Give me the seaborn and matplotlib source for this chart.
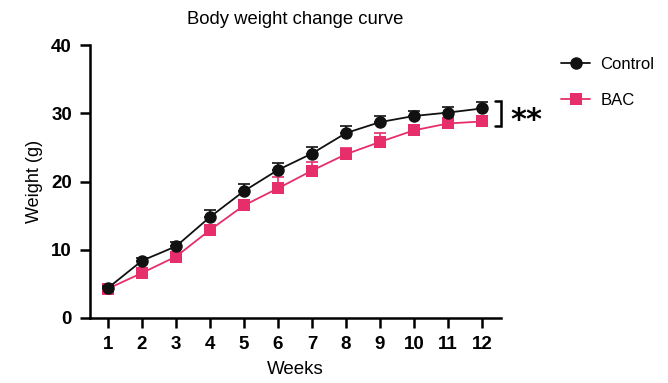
import matplotlib
matplotlib.use("Agg")
import matplotlib.pyplot as plt
import seaborn as sns
import pandas as pd
import numpy as np
from matplotlib.lines import Line2D

weeks = [1, 2, 3, 4, 5, 6, 7, 8, 9, 10, 11, 12]
control_mean = [4.4, 8.4, 10.5, 14.8, 18.6, 21.7, 24.1, 27.1, 28.7, 29.6, 30.1, 30.7]
control_err = [0.3, 0.4, 0.7, 1.0, 1.1, 1.0, 0.9, 1.1, 0.9, 0.8, 0.8, 1.0]
bac_mean = [4.3, 6.6, 9.0, 12.9, 16.5, 19.0, 21.6, 24.0, 25.8, 27.5, 28.5, 28.8]
bac_err = [0.3, 0.4, 0.5, 0.6, 0.6, 1.6, 1.3, 0.9, 1.3, 0.6, 0.5, 0.5]
groups = ["Control", "BAC"]
colors = {"Control": "#111111", "BAC": "#E62E6B"}
markers = {"Control": "o", "BAC": "s"}

sns.set_theme(style="ticks")
plt.rcParams["font.family"] = ["Liberation Sans", "DejaVu Sans"]
plt.rcParams["text.color"] = "black"
plt.rcParams["axes.labelcolor"] = "black"
plt.rcParams["xtick.color"] = "black"
plt.rcParams["ytick.color"] = "black"

df = pd.DataFrame({
    "Weeks": weeks * 2,
    "Weight": control_mean + bac_mean,
    "Group": ["Control"] * len(weeks) + ["BAC"] * len(weeks),
})

fig = plt.figure(figsize=(6.68, 3.83), dpi=100)
ax = fig.add_axes([90 / 668, 1 - 318 / 383, (500.7 - 90) / 668, (318 - 45) / 383])

errs = {"Control": control_err, "BAC": bac_err}
means = {"Control": control_mean, "BAC": bac_mean}
zo = {"Control": 4, "BAC": 3}
for g in ["BAC", "Control"]:
    e = np.array(errs[g])
    ax.errorbar(weeks, means[g], yerr=[np.zeros_like(e), e], fmt="none",
                ecolor=colors[g], elinewidth=1.2, capsize=4, capthick=1.2, zorder=zo[g] - 1)
    sns.lineplot(data=df[df["Group"] == g], x="Weeks", y="Weight", ax=ax,
                 color=colors[g], marker=markers[g], markersize=9 if g == "Control" else 8.5,
                 markeredgewidth=0, linewidth=1.3, zorder=zo[g], legend=False)

ax.set_xlim(0.47, 12.55)
ax.set_ylim(0, 40)
ax.set_xticks(weeks)
ax.set_yticks([0, 10, 20, 30, 40])
ax.tick_params(axis="both", which="major", length=7, width=1.8, labelsize=13.5, pad=6,
               colors="black")
for lbl in ax.get_xticklabels() + ax.get_yticklabels():
    lbl.set_fontweight("bold")
for s in ["top", "right"]:
    ax.spines[s].set_visible(False)
for s in ["left", "bottom"]:
    ax.spines[s].set_linewidth(1.8)
    ax.spines[s].set_color("black")
ax.set_xlabel("Weeks", fontsize=13.5, labelpad=6, color="black")
ax.set_ylabel("Weight (g)", fontsize=13, labelpad=6, color="black")
ax.set_title("Body weight change curve", fontsize=13.3, pad=15, color="black")

# significance bracket
ax.plot([12.38, 12.55, 12.55, 12.38], [31.8, 31.8, 28.2, 28.2], color="black",
        lw=1.8, clip_on=False, solid_joinstyle="miter")
ax.text(12.82, 29.0, "**", fontsize=22, fontweight="bold", va="center", ha="left",
        family="DejaVu Sans", color="black", clip_on=False)

handles = [Line2D([0], [0], color=colors[g], marker=markers[g], markersize=9,
                  markeredgewidth=0, lw=1.3) for g in groups]
leg = fig.legend(handles, groups, loc="upper left", bbox_to_anchor=(546 / 668, 1 - 42 / 383),
                 frameon=False, fontsize=12, handlelength=1.75, labelspacing=1.25,
                 handletextpad=0.6)
for t in leg.get_texts():
    t.set_color("black")

fig.savefig("out.png", dpi=100)
